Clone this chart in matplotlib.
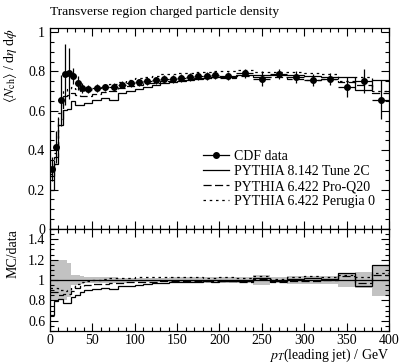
import numpy as np
import matplotlib
matplotlib.use("Agg")
import matplotlib.pyplot as plt
from matplotlib.lines import Line2D
from matplotlib.ticker import MultipleLocator, FuncFormatter

plt.rcParams['font.family'] = 'serif'
plt.rcParams['font.serif'] = ['Liberation Serif', 'DejaVu Serif']
plt.rcParams['mathtext.fontset'] = 'stix'

# bin edges in pT(leading jet) / GeV
edges = [0, 5, 10, 15, 20, 25, 30, 35, 40,
         50, 60, 70, 80, 90, 100, 110, 120, 130, 140, 150, 160, 170, 180, 190, 200,
         220, 240, 260, 280, 300, 320, 340, 360, 380, 400]

# CDF data
data_y = [0.305, 0.417, 0.653, 0.786, 0.791, 0.776, 0.741, 0.716,
          0.712, 0.715, 0.719, 0.722, 0.733, 0.740, 0.746, 0.750,
          0.754, 0.763, 0.763, 0.768, 0.770, 0.776, 0.776, 0.782,
          0.775, 0.791, 0.763, 0.788, 0.771, 0.758, 0.763, 0.720, 0.751, 0.657]
data_err = [0.06, 0.083, 0.13, 0.155, 0.13, 0.04, 0.035, 0.025,
            0.02, 0.02, 0.018, 0.018, 0.018, 0.018, 0.018, 0.018,
            0.018, 0.018, 0.02, 0.02, 0.02, 0.02, 0.022, 0.022,
            0.02, 0.022, 0.038, 0.025, 0.03, 0.03, 0.03, 0.05, 0.06, 0.1]

# MC predictions
tune2c = [0.20, 0.33, 0.53, 0.605, 0.61, 0.65, 0.63, 0.63,
          0.64, 0.655, 0.665, 0.655, 0.69, 0.70, 0.71, 0.72,
          0.73, 0.74, 0.745, 0.75, 0.755, 0.76, 0.765, 0.77,
          0.77, 0.78, 0.78, 0.78, 0.78, 0.775, 0.77, 0.77, 0.707, 0.755]
proq20 = [0.27, 0.367, 0.56, 0.675, 0.68, 0.69, 0.682, 0.673,
          0.676, 0.686, 0.694, 0.70, 0.715, 0.725, 0.731, 0.739,
          0.743, 0.752, 0.752, 0.757, 0.76, 0.765, 0.766, 0.772,
          0.767, 0.775, 0.77, 0.772, 0.76, 0.754, 0.76, 0.745, 0.729, 0.69]
perugia0 = [0.28, 0.384, 0.59, 0.70, 0.71, 0.72, 0.71, 0.70,
            0.705, 0.716, 0.726, 0.736, 0.748, 0.758, 0.765, 0.772,
            0.777, 0.785, 0.786, 0.79, 0.793, 0.798, 0.795, 0.80,
            0.80, 0.805, 0.795, 0.795, 0.795, 0.79, 0.785, 0.752, 0.773, 0.70]

labels = ['CDF data', 'PYTHIA 8.142 Tune 2C', 'PYTHIA 6.422 Pro-Q20',
          'PYTHIA 6.422 Perugia 0']

edges = np.array(edges, dtype=float)
centers = 0.5 * (edges[1:] + edges[:-1])
halfw = 0.5 * (edges[1:] - edges[:-1])
data_y = np.array(data_y)
data_err = np.array(data_err)

styles = [dict(color='k', lw=0.9, linestyle='-'),
          dict(color='k', lw=0.9, linestyle=(0, (6.5, 2.7))),
          dict(color='k', lw=0.9, linestyle=(0, (2, 3)))]
mcs = [tune2c, proq20, perugia0]

fig = plt.figure(figsize=(3.99, 3.63), dpi=100)
ax = fig.add_axes([0.1253, 0.369, 0.8496, 0.5537])
ax2 = fig.add_axes([0.1253, 0.0882, 0.8496, 0.2808])

# main panel
for mc, st in zip(mcs, styles):
    ax.stairs(mc, edges, baseline=None, **st)
ax.errorbar(centers, data_y, xerr=halfw, yerr=data_err, fmt='o', color='k',
            ms=4, lw=0.9, capsize=0, zorder=5)

ax.set_xlim(0, 400)
ax.set_ylim(0, 1.02)
ax.set_ylabel(r'$\langle N_\mathrm{ch}\rangle$ / d$\eta$ d$\phi$', loc='top', fontsize=10)
ax.yaxis.set_label_coords(-0.09, 1.0)

handles = [Line2D([], [], color='k', marker='o', ms=4, lw=0.9)]
handles += [Line2D([], [], **st) for st in styles]
ax.legend(handles, labels, loc='upper left', bbox_to_anchor=(0.451, 0.395),
          frameon=False, fontsize=10, handlelength=1.9, handletextpad=0.36,
          labelspacing=0.16, borderpad=0, borderaxespad=0)

# ratio panel
rel = data_err / data_y
ax2.stairs(1 + rel, edges, baseline=1 - rel, fill=True, color='0.76', lw=0)
ax2.axhline(1, color='k', lw=0.9)
for mc, st in zip(mcs, styles):
    ax2.stairs(np.array(mc) / data_y, edges, baseline=None, **st)
ax2.set_xlim(0, 400)
ax2.set_ylim(0.5, 1.5)
ax2.set_yticks([0.6, 0.8, 1.0, 1.2, 1.4])
ax2.set_ylabel('MC/data', loc='top', fontsize=10)
ax2.yaxis.set_label_coords(-0.09, 1.0)
ax2.set_xlabel(r'$p_T$(leading jet) / GeV', loc='right', fontsize=10)
ax2.xaxis.set_label_coords(1.0, -0.15)

fmt = FuncFormatter(lambda v, p: '%g' % round(v, 3))
for a in (ax, ax2):
    a.xaxis.set_major_locator(MultipleLocator(50))
    a.xaxis.set_minor_locator(MultipleLocator(10))
    a.yaxis.set_minor_locator(MultipleLocator(0.05))
    a.yaxis.set_major_formatter(fmt)
    a.xaxis.set_major_formatter(fmt)
    a.tick_params(which='both', direction='in', top=True, right=True,
                  width=0.8, labelsize=10)
    a.tick_params(which='major', length=5.5)
    a.tick_params(which='minor', length=3)
    for s in a.spines.values():
        s.set_linewidth(0.9)
ax.yaxis.set_major_locator(MultipleLocator(0.2))
ax.tick_params(labelbottom=False)
ax2.tick_params(axis='x', pad=2)

fig.text(0.1253, 1 - 12 / 363, 'Transverse region charged particle density',
         fontsize=9.7, ha='left', va='center')

fig.savefig('out.png', dpi=100)
